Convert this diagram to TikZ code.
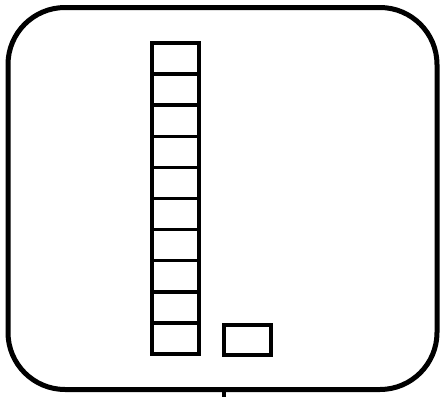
\documentclass[tikz,border=0pt]{standalone}
\begin{document}
\begin{tikzpicture}[x=1pt,y=-1pt,
  frame/.style={draw, line width=5pt, rounded corners=57pt, minimum width=429pt, minimum height=382pt, inner sep=0pt, outer sep=0pt},
  cell/.style={draw, line width=3.5pt, minimum width=47pt, minimum height=31.1pt, inner sep=0pt, outer sep=0pt},
  tick/.style={line width=4pt}]
\useasboundingbox (0,0) rectangle (440,397);
\node[frame] (frame) at (222.5,198.5) {};
\foreach \i in {0,...,9}{
  \node[cell] (c\i) at (175.5,{43+31.1*(\i+0.5)}) {};
}
\node[cell, minimum height=30pt] (small) at (247.5,340) {};
\coordinate (tickend) at (224,400);
\draw[tick] (tickend |- frame.south) -- (tickend);
\end{tikzpicture}
\end{document}
